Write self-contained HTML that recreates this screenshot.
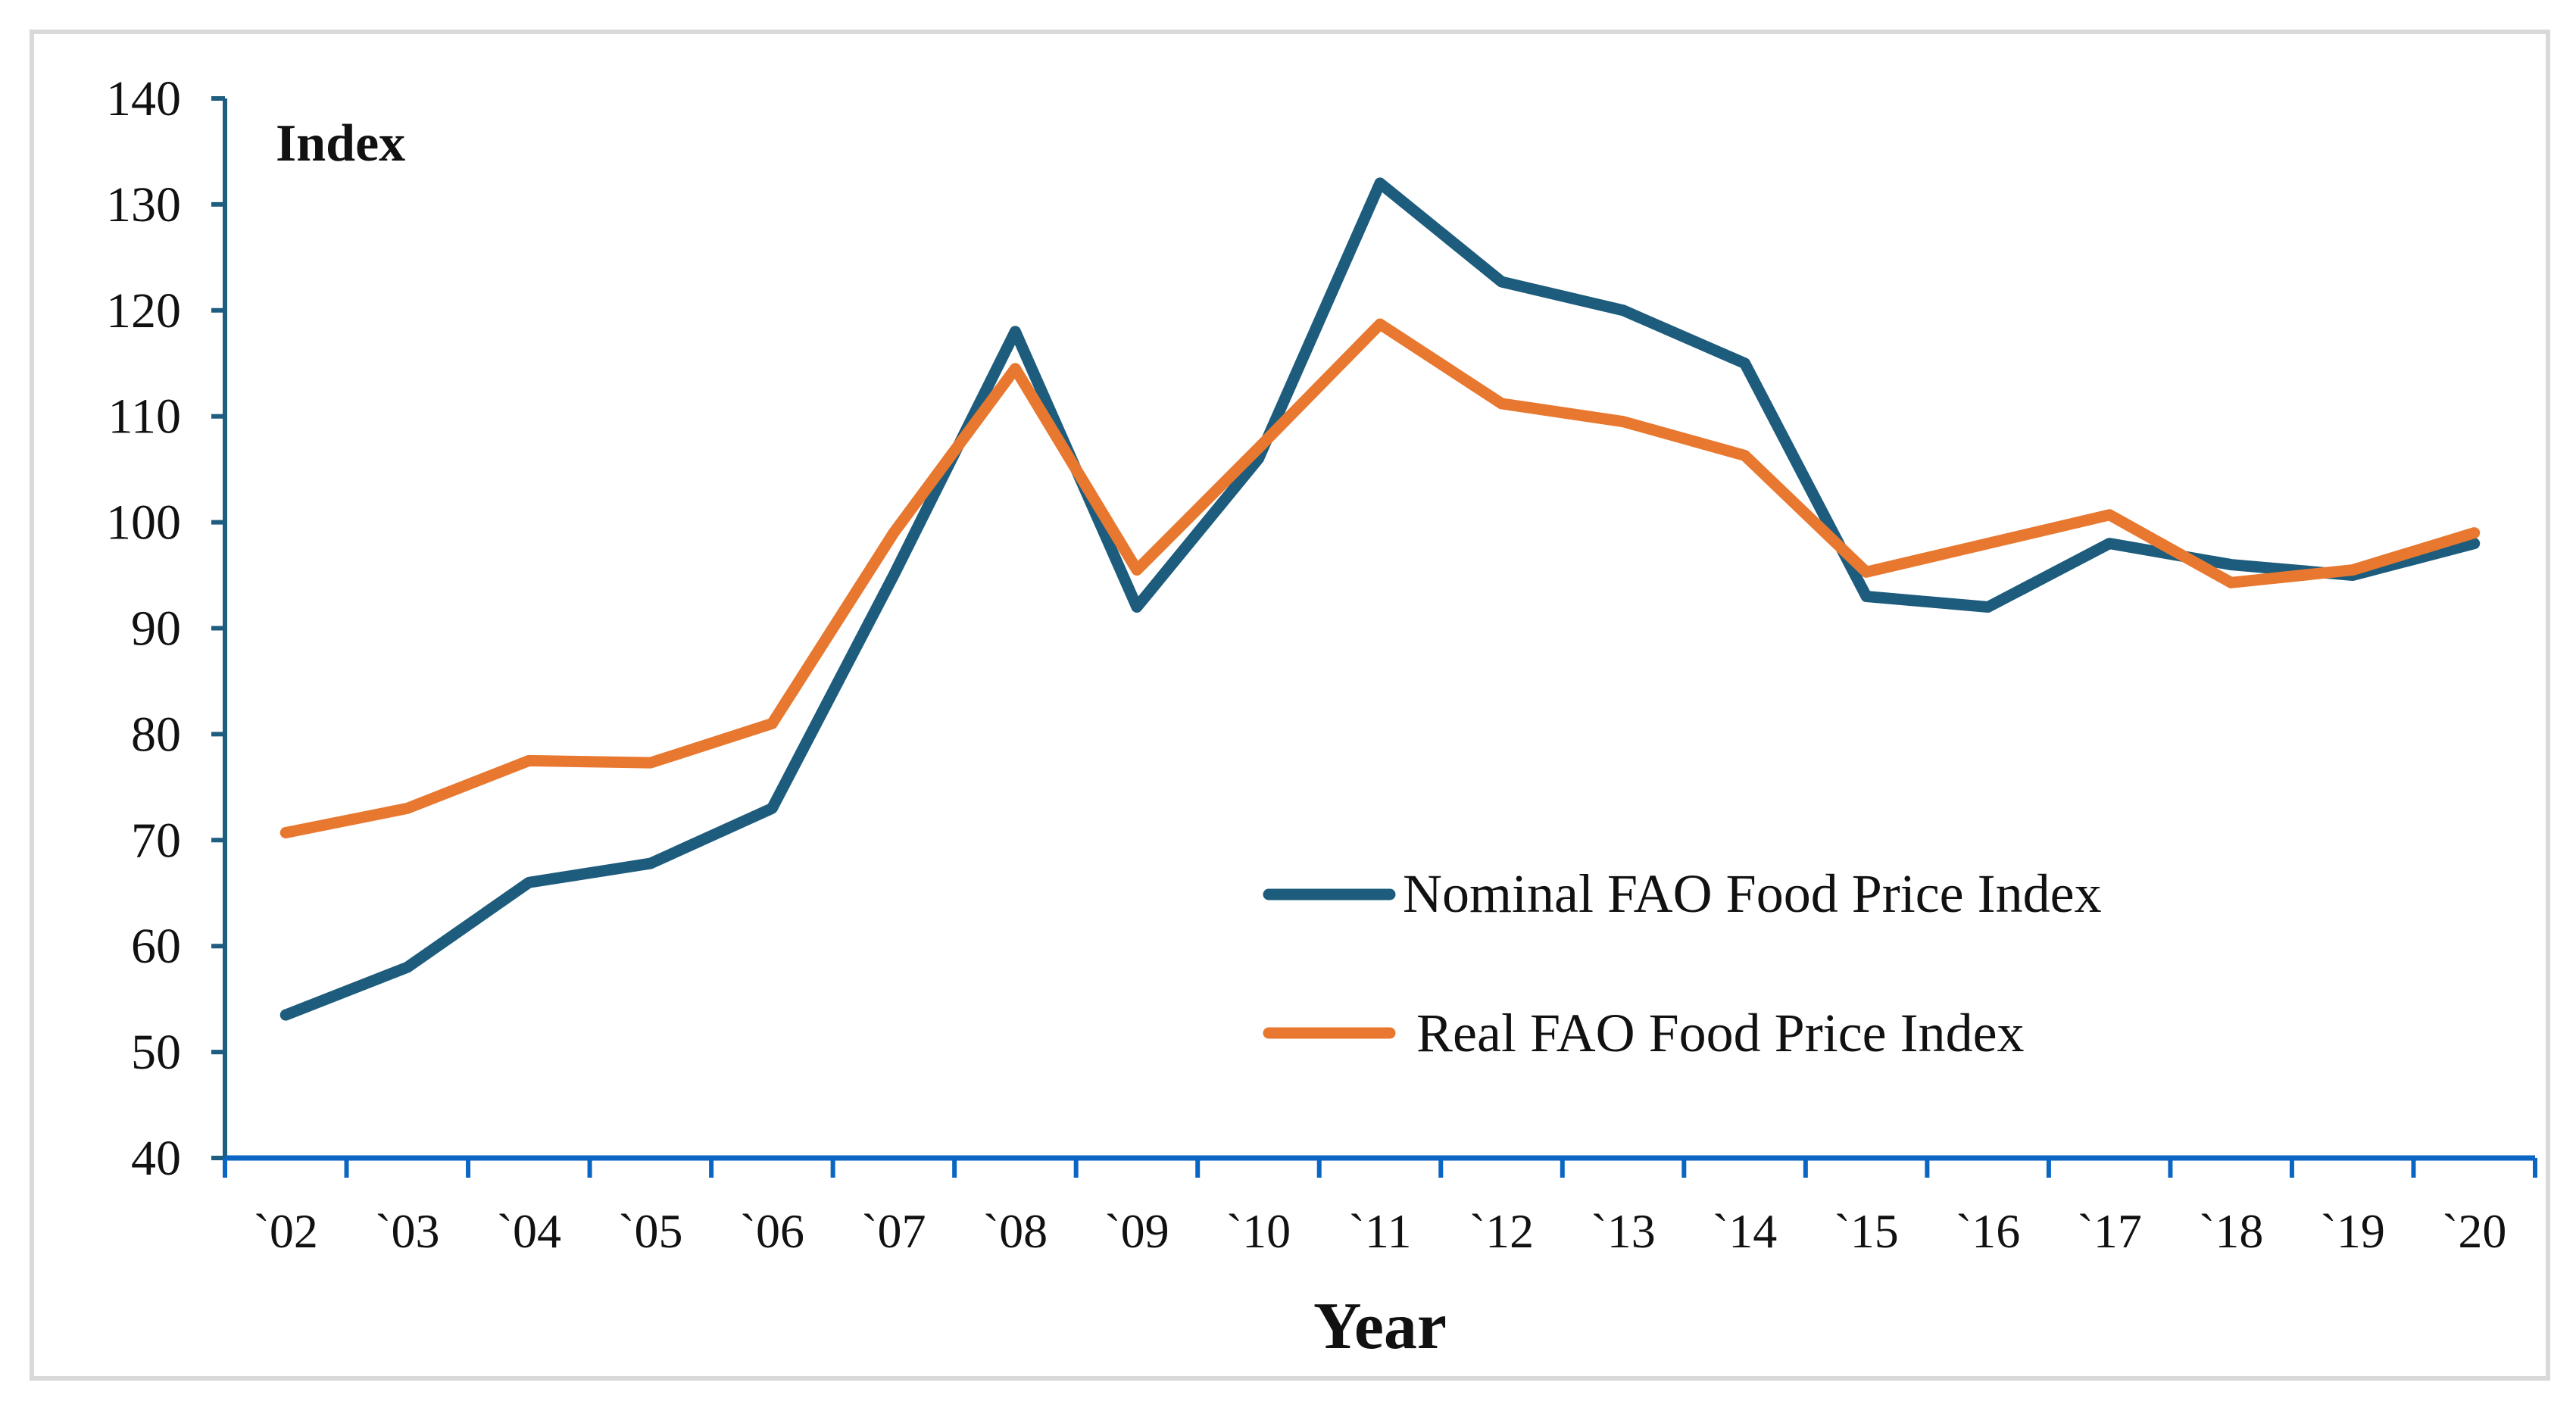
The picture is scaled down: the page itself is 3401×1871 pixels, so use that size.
<!DOCTYPE html>
<html><head><meta charset="utf-8"><style>
html,body{margin:0;padding:0;background:#fff}
svg{display:block}
text{font-family:"Liberation Serif",serif;fill:#111}
</style></head><body>
<svg width="3401" height="1871" viewBox="0 0 3401 1871">
<rect x="42" y="42" width="3322" height="1778" fill="#fff" stroke="#d9d9d9" stroke-width="6"/>
<g id="axes"></g>
<g id="series"></g>
<text x="364" y="212" font-size="70" font-weight="bold">Index</text>
<text x="1822" y="1780" font-size="88" font-weight="bold" text-anchor="middle">Year</text>
<g>
<line x1="1675" y1="1181" x2="1835" y2="1181" stroke="#1d5c7c" stroke-width="15" stroke-linecap="round"/>
<text x="1852" y="1204" font-size="72">Nominal FAO Food Price Index</text>
<line x1="1675" y1="1364" x2="1835" y2="1364" stroke="#e8782f" stroke-width="15" stroke-linecap="round"/>
<text x="1870" y="1388" font-size="72">Real FAO Food Price Index</text>
</g>
</svg>
<script>
const categories=["`02","`03","`04","`05","`06","`07","`08","`09","`10","`11","`12","`13","`14","`15","`16","`17","`18","`19","`20"];
const nominal=[53.5,58,66,67.8,73,95,118,92,106,132,122.7,120,115,93,92,98,96,95,98];
const real=[70.7,73,77.5,77.3,81,99,114.5,95.5,107,118.7,111.2,109.5,106.3,95.3,98,100.7,94.3,95.5,99];
const yTicks=[40,50,60,70,80,90,100,110,120,130,140];
const NS="http://www.w3.org/2000/svg";
const X0=297,X1=3347,Y0=1529,Y1=130,YMIN=40,YMAX=140;
const step=(X1-X0)/categories.length;
function xPos(i){return X0+step*(i+0.5);}
function yPos(v){return Y0-(v-YMIN)/(YMAX-YMIN)*(Y0-Y1);}
function mk(tag,attrs,parent){const e=document.createElementNS(NS,tag);for(const k in attrs)e.setAttribute(k,attrs[k]);parent.appendChild(e);return e;}
const axes=document.getElementById('axes');
let ya=mk('line',{x1:X0,y1:Y1,x2:X0,y2:Y0,stroke:'#1f5d80','stroke-width':6},axes);


yTicks.forEach(v=>{
  let t=mk('line',{x1:X0-18,y1:yPos(v),x2:X0,y2:yPos(v),stroke:'#1f5d80','stroke-width':6},axes);
  
  
  let l=mk('text',{x:X0-58,y:yPos(v)+22,'font-size':66,'text-anchor':'end'},axes);
  l.textContent=v;
  
  
});
let xa=mk('line',{x1:X0,y1:Y0,x2:X1,y2:Y0,stroke:'#0a66c2','stroke-width':7},axes);


for(let i=0;i<=categories.length;i++){
  let t=mk('line',{x1:X0+step*i,y1:Y0,x2:X0+step*i,y2:Y0+26,stroke:'#0a66c2','stroke-width':6},axes);
  
  
}
categories.forEach((c,i)=>{
  let l=mk('text',{x:xPos(i),y:1647,'font-size':64,'text-anchor':'middle'},axes);
  l.textContent=c;
  
  
});
const ser=document.getElementById('series');
function drawLine(vals,color,name){
  const pts=vals.map((v,i)=>xPos(i)+','+yPos(v)).join(' ');
  let p=mk('polyline',{points:pts,fill:'none',stroke:color,'stroke-width':15,'stroke-linejoin':'round','stroke-linecap':'round'},ser);
  
  
}
drawLine(nominal,'#1d5c7c','nominal-index-line');
drawLine(real,'#e8782f','real-index-line');
</script>
</body></html>
